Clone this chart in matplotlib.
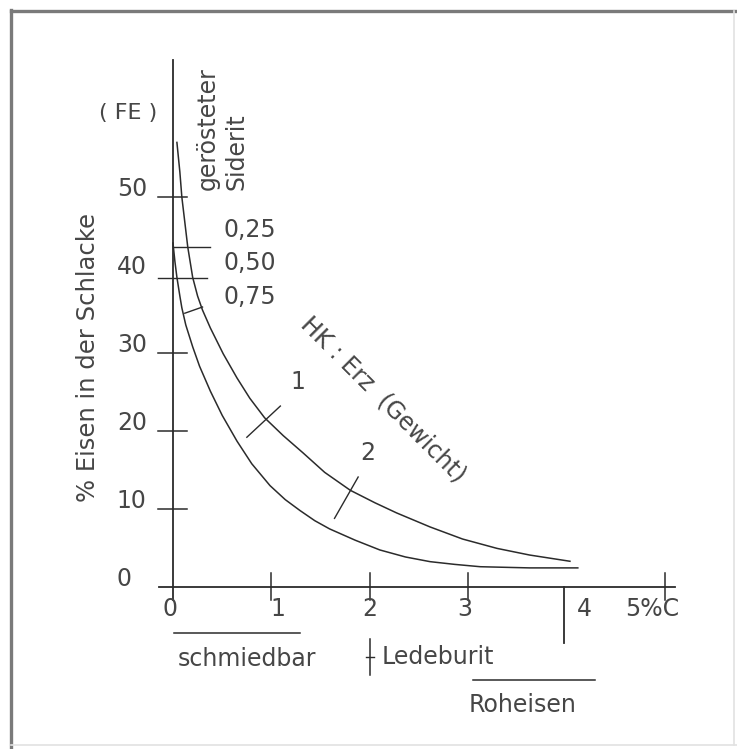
import matplotlib
matplotlib.use("Agg")
import matplotlib.pyplot as plt

# curve "gerösteter Siderit" (upper) and HK:Erz curve (lower)
upper_x = [0.04, 0.07, 0.09, 0.12, 0.15, 0.20, 0.25, 0.30, 0.38, 0.51, 0.65, 0.78,
           0.93, 1.12, 1.32, 1.54, 1.80, 2.05, 2.27, 2.61, 2.94, 3.29, 3.62, 4.03]
upper_y = [57.0, 53.2, 50.0, 46.8, 43.6, 39.7, 37.3, 35.5, 33.2, 29.9, 26.8, 24.2,
           21.7, 19.4, 17.2, 14.7, 12.4, 10.8, 9.5, 7.7, 6.15, 4.95, 4.1, 3.3]
lower_x = [0.00, 0.02, 0.04, 0.07, 0.09, 0.13, 0.20, 0.27, 0.38, 0.50, 0.65, 0.80,
           0.985, 1.14, 1.29, 1.44, 1.59, 1.85, 2.10, 2.36, 2.61, 2.86, 3.12, 3.62, 4.11]
lower_y = [44.1, 41.7, 39.7, 37.3, 35.8, 33.6, 30.8, 28.3, 25.1, 22.0, 18.7, 15.8,
           13.0, 11.2, 9.8, 8.5, 7.45, 6.0, 4.75, 3.85, 3.25, 2.9, 2.6, 2.45, 2.45]

# axis ticks and labels
yticks = [10, 20, 30, 50]
ytick_labels = ["0", "10", "20", "30", "40", "50"]
xticks = [1, 2, 3, 5]
xtick_labels = ["0", "1", "2", "3", "4", "5%C"]
xtick_label_pos = [-0.03, 1.07, 2.0, 2.96, 4.18, 4.86]

# ratio marks on the curves: (x0, y0, x1, y1)
ratio_labels = ["0,25", "0,50", "0,75"]
ratio_label_y = [45.8, 41.5, 37.2]
ratio_marks = [(0.0, 43.6, 0.38, 43.6),
               (-0.15, 39.6, 0.35, 39.6),
               (0.12, 35.1, 0.30, 35.9)]
hk_marks = [(0.75, 19.2, 1.09, 23.2), (1.64, 8.8, 1.88, 14.1)]
hk_labels = ["1", "2"]
hk_label_pos = [(1.27, 26.3), (1.98, 17.2)]

# ranges below the x axis
ranges = ["schmiedbar", "Ledeburit", "Roheisen"]

ink = "#2b2b2b"
txt = "#464646"
fs = 17

fig = plt.figure(figsize=(7.37, 7.49), dpi=100)
ax = fig.add_axes([0, 0, 1, 1])
ax.set_xlim(-1.756, 5.726)
ax.set_ylim(-20.77, 75.26)
ax.axis("off")

# outer frame (scan border)
ax.plot([0.015, 0.015], [0.003, 0.986], color="#7a7a7a", lw=2.4, transform=ax.transAxes, clip_on=False)
ax.plot([0.015, 1.0], [0.985, 0.985], color="#7a7a7a", lw=2.4, transform=ax.transAxes, clip_on=False)
ax.plot([0.996, 0.996], [0.005, 0.985], color="#e2e2e2", lw=1.2, transform=ax.transAxes)
ax.plot([0.015, 1.0], [0.005, 0.005], color="#e2e2e2", lw=1.2, transform=ax.transAxes)

# axes
ax.plot([0, 0], [-1.7, 67.6], color=ink, lw=1.3)
ax.plot([-0.14, 5.10], [0, 0], color=ink, lw=1.3)
for v in yticks:
    ax.plot([-0.15, 0.14], [v, v], color=ink, lw=1.1)
for v in xticks:
    ax.plot([v, v], [1.8, -1.7], color=ink, lw=1.1)
ax.plot([3.97, 3.97], [0, -7.2], color=ink, lw=1.3)

for i, lab in enumerate(ytick_labels):
    ax.text(-0.57, i * 10 + 1.0, lab, fontsize=fs, color=txt, ha="left", va="center")
for lab, xp in zip(xtick_labels, xtick_label_pos):
    ax.text(xp, -2.8, lab, fontsize=fs, color=txt, ha="center", va="center")

# curves
ax.plot(upper_x, upper_y, color=ink, lw=1.1)
ax.plot(lower_x, lower_y, color=ink, lw=1.1)

for (x0, y0, x1, y1) in ratio_marks + hk_marks:
    ax.plot([x0, x1], [y0, y1], color=ink, lw=1.0)
for lab, yp in zip(ratio_labels, ratio_label_y):
    ax.text(0.51, yp, lab, fontsize=fs, color=txt, ha="left", va="center")
for lab, (xp, yp) in zip(hk_labels, hk_label_pos):
    ax.text(xp, yp, lab, fontsize=fs, color=txt, ha="center", va="center")

# texts
ax.text(-0.46, 60.8, "( FE )", fontsize=fs - 1, color=txt, ha="center", va="center")
ax.text(-0.86, 29.4, "% Eisen in der Schlacke", fontsize=17.5, color=txt,
        rotation=90, ha="center", va="center")
ax.text(0.35, 50.9, "gerösteter", fontsize=fs, color=txt, rotation=90, ha="center", va="bottom")
ax.text(0.65, 50.9, "Siderit", fontsize=fs, color=txt, rotation=90, ha="center", va="bottom")
ax.text(2.13, 24.0, "HK : Erz  (Gewicht)", fontsize=fs, color=txt, rotation=-45,
        ha="center", va="center", rotation_mode="anchor")

# ranges
ax.plot([0.01, 1.29], [-5.9, -5.9], color=ink, lw=1.1)
ax.text(0.75, -9.2, ranges[0], fontsize=fs, color=txt, ha="center", va="center")
ax.plot([2.0, 2.0], [-6.7, -11.3], color=ink, lw=1.1)
ax.plot([1.96, 2.04], [-9.0, -9.0], color=ink, lw=1.0)
ax.text(2.12, -9.0, ranges[1], fontsize=fs, color=txt, ha="left", va="center")
ax.plot([3.05, 4.28], [-11.9, -11.9], color=ink, lw=1.1)
ax.text(3.0, -15.1, ranges[2], fontsize=fs, color=txt, ha="left", va="center")

fig.savefig("out.png", dpi=100)
